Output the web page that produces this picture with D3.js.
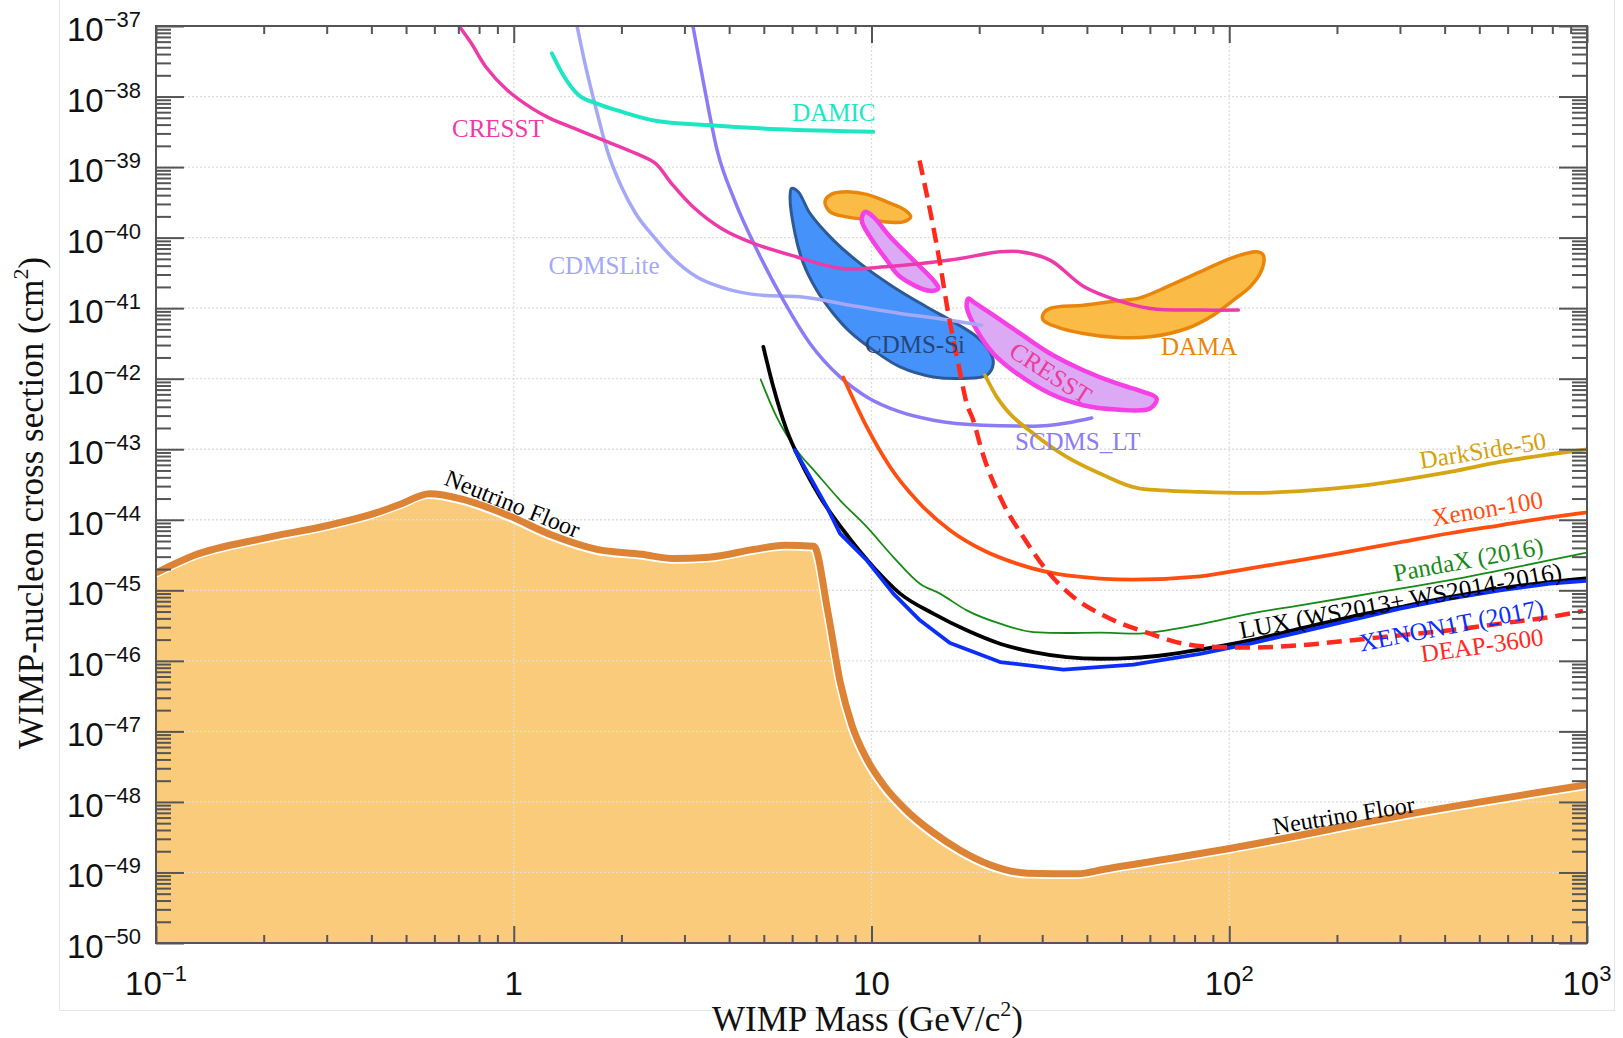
<!DOCTYPE html>
<html><head><meta charset="utf-8">
<script src="https://cdn.jsdelivr.net/npm/d3@7"></script>
<style>html,body{margin:0;padding:0;background:#fff;} svg{display:block;}</style>
</head><body>
<svg id="chart" width="1623" height="1038"></svg>
<script>
// ---------- axis / tick data ----------
const massDomain = [0.1, 1000];
const sigmaDomain = [1e-37, 1e-50];
const massMajor = [0.1, 1, 10, 100, 1000];
const xTickLabels = [["10","−1"],["1",""],["10",""],["10","2"],["10","3"]];
const sigmaExponents = d3.range(-37, -51, -1);
const yTickLabels = sigmaExponents.map(e => ["10", "−" + (-e)]);

// ---------- series ([mass GeV, sigma cm^2]) ----------
const neutrinoFloor = [[0.1,1.76e-45],[0.128,3.13e-45],[0.198,5.41e-45],[0.304,8.36e-45],[0.406,1.22e-44],
  [0.482,1.66e-44],[0.582,2.34e-44],[0.721,1.95e-44],[0.962,1.16e-44],[1.282,6.03e-45],[1.71,3.80e-45],
  [2.28,3.24e-45],[2.79,2.82e-45],[3.516,2.95e-45],[4.69,3.80e-45],[5.73,4.37e-45],[6.90,4.21e-45],
  [7.556,4.88e-46],[8.19,4.80e-47],[8.82,1.22e-47],[9.65,4.28e-48],[10.84,1.71e-48],[12.45,7.83e-49],
  [14.74,3.82e-49],[17.74,2.05e-49],[21.33,1.30e-49],[27.29,9.77e-50],[37.73,9.59e-50],[44.7,1.11e-49],
  [99.5,2.17e-49],[341,7.16e-49],[1000,1.75e-48]];

const cresstLimit = [[0.703,1e-37],[0.761,5.69e-38],[0.835,2.65e-38],[0.958,1.24e-38],[1.125,6.79e-39],
  [1.263,4.90e-39],[1.518,3.35e-39],[1.823,2.29e-39],[2.193,1.56e-39],[2.489,1.13e-39],[2.759,5.87e-40],
  [3.168,2.74e-40],[3.806,1.35e-40],[4.682,8.28e-41],[6.166,5.35e-41],[8.22,3.66e-41],[10.96,3.85e-41],
  [16.57,4.80e-41],[22.87,6.30e-41],[26.0,6.31e-41],[31.55,4.80e-41],[39.08,2.05e-41],[48.46,1.30e-41],
  [60.03,9.91e-42],[82.79,9.38e-42],[106.0,9.38e-42]];

const damicLimit = [[1.278,4.10e-38],[1.384,1.91e-38],[1.518,1.05e-38],[1.702,8.02e-39],[2.0,6.10e-39],
  [2.489,4.54e-39],[3.471,3.94e-39],[5.50,3.43e-39],[10.11,3.17e-39]];

const cdmsliteLimit = [[1.503,1e-37],[1.589,2.65e-38],[1.702,6.44e-39],[1.824,1.74e-39],[2.0,5.26e-40],
  [2.192,2.20e-40],[2.46,1.03e-40],[2.759,5.35e-41],[3.241,2.78e-41],[3.895,1.91e-41],[4.90,1.53e-41],
  [6.31,1.45e-41],[8.71,1.10e-41],[12.02,8.41e-42],[16.57,6.76e-42],[20.32,5.74e-42]];

const scdmsLimit = [[3.168,1e-37],[3.394,1.54e-38],[3.702,1.74e-39],[4.14,3.40e-40],[4.786,6.65e-41],
  [5.668,1.30e-41],[6.73,3.16e-42],[8.166,1.06e-42],[9.70,5.51e-43],[12.02,3.38e-43],[14.89,2.58e-43],
  [20.53,2.19e-43],[28.34,2.12e-43],[35.13,2.36e-43],[41.27,2.78e-43]];

const cdmsSiRegion = [[5.98,4.99e-40],[5.92,3.79e-40],[6.11,1.15e-40],[6.45,4.31e-41],[7.03,1.80e-41],
  [7.82,8.41e-42],[8.71,4.61e-42],[10.12,2.54e-42],[12.02,1.47e-42],[14.89,1.06e-42],[18.06,1.01e-42],
  [20.99,1.12e-42],[21.9,1.64e-42],[21.44,2.40e-42],[19.69,3.92e-42],[16.93,6.40e-42],[14.27,1.04e-41],
  [11.51,2.00e-41],[9.29,4.31e-41],[7.82,9.23e-41],[6.73,2.20e-40],[6.24,4.47e-40]];

const damaRegionLow = [[7.41,3.22e-40],[7.74,4.14e-40],[8.53,4.47e-40],[9.70,4.10e-40],[11.03,3.22e-40],
  [12.41,2.45e-40],[12.87,1.97e-40],[12.27,1.67e-40],[11.03,1.67e-40],[9.70,1.81e-40],[8.53,1.97e-40],[7.66,2.32e-40]];

const damaRegionHigh = [[30.1,7.96e-42],[31.55,9.91e-42],[39.08,1.10e-41],[48.46,1.26e-41],[56.3,1.40e-41],
  [66.88,2.00e-41],[82.84,3.27e-41],[102.7,5.24e-41],[119.3,6.30e-41],[124.5,5.65e-41],[123.2,3.46e-41],
  [114.3,2.00e-41],[102.7,1.30e-41],[90.2,7.96e-42],[76.05,5.15e-42],[60.03,3.92e-42],[48.46,3.84e-42],
  [39.08,4.38e-42],[32.94,5.43e-42],[30.22,6.76e-42]];

const cresstRegionLow = [[9.59,2.32e-40],[10.12,1.97e-40],[11.27,1.03e-40],[13.09,4.80e-41],[14.89,2.49e-41],
  [15.37,1.91e-41],[14.57,1.76e-41],[12.02,2.78e-41],[11.03,4.80e-41],[9.90,1.03e-40],[9.39,1.77e-40]];

const cresstRegionHigh = [[18.65,1.37e-41],[18.46,1.04e-41],[19.69,4.88e-42],[21.9,2.28e-42],[25.47,1.19e-42],
  [31.55,6.17e-43],[39.08,4.21e-43],[48.46,3.66e-43],[60.03,3.78e-43],[62.68,5.24e-43],[57.5,6.50e-43],
  [48.46,8.55e-43],[39.08,1.32e-42],[31.55,2.28e-42],[26.01,4.38e-42],[21.9,7.96e-42],[19.26,1.23e-41]];

const deapLimit = [[13.62,1.24e-39],[14.57,2.45e-40],[15.54,4.31e-41],[16.39,8.41e-42],[17.48,1.64e-42],
  [18.46,4.45e-43],[19.25,2.58e-43],[20.32,9.68e-44],[23.35,1.70e-44],[26.57,5.70e-45],[30.88,1.92e-45],
  [36.66,8.04e-46],[45.44,4.18e-46],[60.03,2.43e-46],[74.4,1.75e-46],[92.2,1.57e-46],[114.3,1.54e-46],
  [157.7,1.66e-46],[217.5,1.95e-46],[300.1,2.30e-46],[414.1,2.71e-46],[571.3,3.37e-46],[788.2,4.18e-46],[974.5,5.08e-46]];

const darksideLimit = [[20.76,1.12e-42],[22.39,5.52e-43],[23.88,3.57e-43],[28.34,1.67e-43],[35.13,7.78e-44],
  [43.52,4.52e-44],[56.3,2.77e-44],[82.84,2.48e-44],[114.3,2.40e-44],[157.7,2.54e-44],[217.5,2.92e-44],
  [300.1,3.63e-44],[414.1,4.76e-44],[571.3,6.61e-44],[788.2,8.49e-44],[1000,1.0e-43]];

const xenon100Limit = [[8.34,1.04e-42],[9.70,2.07e-43],[11.27,5.61e-44],[13.38,1.89e-44],[16.57,7.10e-45],
  [20.53,3.69e-45],[25.47,2.39e-45],[35.13,1.63e-45],[53.94,1.42e-45],[82.84,1.58e-45],[114.3,2.05e-45],
  [157.7,2.67e-45],[217.5,3.57e-45],[300.1,4.80e-45],[414.1,6.44e-45],[571.3,8.36e-45],[788.2,1.08e-44],[987.2,1.26e-44]];

const pandaxLimit = [[4.90,9.75e-43],[5.43,2.87e-43],[6.18,9.68e-44],[7.03,4.52e-44],[8.17,1.89e-44],
  [9.70,7.91e-45],[11.51,2.96e-45],[13.66,1.24e-45],[15.54,8.97e-46],[18.46,5.20e-46],[22.87,3.37e-46],
  [28.34,2.56e-46],[35.13,2.48e-46],[43.52,2.51e-46],[53.94,2.43e-46],[66.88,2.71e-46],[82.84,3.30e-46],
  [114.3,4.68e-46],[157.7,6.12e-46],[217.5,8.04e-46],[300.1,1.06e-45],[414.1,1.39e-45],[571.3,1.92e-45],
  [788.2,2.67e-45],[993.6,3.40e-45]];

const luxLimit = [[4.985,2.82e-42],[5.315,7.66e-43],[5.794,1.86e-43],[6.31,6.98e-44],[7.18,2.10e-44],
  [8.34,7.10e-45],[10.12,2.14e-45],[12.02,8.97e-46],[14.89,4.67e-46],[18.46,2.71e-46],[22.87,1.75e-46],
  [28.34,1.33e-46],[35.13,1.13e-46],[43.52,1.07e-46],[53.94,1.10e-46],[66.88,1.22e-46],[82.84,1.44e-46],
  [114.3,1.95e-46],[157.7,2.86e-46],[217.5,4.18e-46],[300.1,5.79e-46],[414.1,8.04e-46],[571.3,1.06e-45],
  [788.2,1.31e-45],[993.6,1.48e-45]];

const xenon1tLimit = [[6.11,9.68e-44],[6.73,4.05e-44],[7.50,1.52e-44],[8.17,6.37e-45],[9.70,2.67e-45],
  [11.51,8.97e-46],[13.66,3.75e-46],[16.57,1.79e-46],[22.87,9.62e-47],[34.38,7.50e-47],[53.94,8.83e-47],
  [82.84,1.26e-46],[114.3,1.75e-46],[157.7,2.56e-46],[217.5,3.75e-46],[300.1,5.50e-46],[414.1,7.62e-46],
  [571.3,1.00e-45],[788.2,1.24e-45],[993.6,1.36e-45]];

// ---------- labels ----------
const curveLabels = [
  {text:"CRESST", at:[0.672,2.67e-39], rot:0, color:"#ee3aa8", anchor:"start"},
  {text:"DAMIC", at:[6.0,4.49e-39], rot:0, color:"#1de6c2", anchor:"start"},
  {text:"CDMSLite", at:[1.25,3.03e-41], rot:0, color:"#a5a8f7", anchor:"start"},
  {text:"CDMS-Si", at:[9.59,2.30e-42], rot:0, color:"#26467a", anchor:"start"},
  {text:"SCDMS_LT", at:[25.18,9.68e-44], rot:0, color:"#8b7bf7", anchor:"start"},
  {text:"DAMA", at:[64.43,2.15e-42], rot:0, color:"#e8860c", anchor:"start"},
  {text:"CRESST", at:[30.74,9.53e-43], rot:33, color:"#ee3a9c", anchor:"middle"},
  {text:"DarkSide-50", at:[343.6,5.28e-44], rot:-9, color:"#d4a10c", anchor:"start"},
  {text:"Xenon-100", at:[371.2,8.09e-45], rot:-9.5, color:"#ff4e0f", anchor:"start"},
  {text:"PandaX (2016)", at:[290.6,1.32e-45], rot:-10.5, color:"#168a16", anchor:"start"},
  {text:"LUX (WS2013+ WS2014-2016)", at:[107.8,2.05e-46], rot:-10.5, color:"#000000", anchor:"start"},
  {text:"XENON1T (2017)", at:[233.4,1.36e-46], rot:-11, color:"#0b2ff7", anchor:"start"},
  {text:"DEAP-3600", at:[345.8,9.53e-47], rot:-8, color:"#ff2a1e", anchor:"start"},
  {text:"Neutrino Floor", at:[0.634,3.19e-44], rot:22, color:"#000000", anchor:"start", size:24},
  {text:"Neutrino Floor", at:[133.4,3.46e-49], rot:-9, color:"#000000", anchor:"start", size:24}
];

// ---------- layout ----------
const M = {left:156, right:1587, top:26, bottom:943};
const svg = d3.select("#chart");
const x = d3.scaleLog().domain(massDomain).range([M.left, M.right]);
const y = d3.scaleLog().domain(sigmaDomain).range([M.top, M.bottom]);
const SERIF = "'Liberation Serif','Times New Roman',serif";
const SANS = "'Liberation Sans',Arial,Helvetica,sans-serif";

svg.append("rect").attr("width",1623).attr("height",1038).attr("fill","#fff");
svg.append("rect").attr("x",59.5).attr("y",-5).attr("width",1555).attr("height",1015.5)
  .attr("fill","none").attr("stroke","#e6e6e6").attr("stroke-width",1);

svg.append("defs").append("clipPath").attr("id","plotclip").append("rect")
  .attr("x",M.left).attr("y",M.top).attr("width",M.right-M.left).attr("height",M.bottom-M.top);

const plot = svg.append("g").attr("clip-path","url(#plotclip)");

// neutrino floor fill
const floorCurve = d3.curveMonotoneX;
const floorArea = d3.area().x(d=>x(d[0])).y0(M.bottom).y1(d=>y(d[1])).curve(floorCurve);
plot.append("path").datum(neutrinoFloor).attr("d",floorArea).attr("fill","#fbcb7c");

// grid
const gridG = plot.append("g").attr("stroke","#dedede").attr("stroke-width",1.3).attr("stroke-dasharray","2,2");
sigmaExponents.slice(1,-1).forEach(e=>{
  gridG.append("line").attr("x1",M.left).attr("x2",M.right).attr("y1",y(Math.pow(10,e))).attr("y2",y(Math.pow(10,e)));
});
massMajor.slice(1,-1).forEach(m=>{
  gridG.append("line").attr("y1",M.top).attr("y2",M.bottom).attr("x1",x(m)).attr("x2",x(m));
});

// floor line
const floorLine = d3.line().x(d=>x(d[0])).y(d=>y(d[1])).curve(floorCurve);
plot.append("path").datum(neutrinoFloor).attr("d",floorLine).attr("fill","none")
  .attr("stroke","#fff").attr("stroke-width",7).attr("transform","translate(-1.2,1.8)");
plot.append("path").datum(neutrinoFloor).attr("d",floorLine).attr("fill","none")
  .attr("stroke","#dc8335").attr("stroke-width",7).attr("stroke-linejoin","round");

// regions
const closed = d3.line().x(d=>x(d[0])).y(d=>y(d[1])).curve(d3.curveCatmullRomClosed.alpha(0.5));
const regions = [
  {data:cdmsSiRegion, fill:"#4592fb", stroke:"#2d5a96", w:3},
  {data:damaRegionLow, fill:"#fbbb47", stroke:"#e8860c", w:3.5},
  {data:cresstRegionLow, fill:"#dcaaf5", stroke:"#f540e6", w:4.5},
  {data:damaRegionHigh, fill:"#fbbb47", stroke:"#e8860c", w:3.5},
  {data:cresstRegionHigh, fill:"#dcaaf5", stroke:"#f540e6", w:4.5}
];
regions.forEach(r=>{
  plot.append("path").datum(r.data).attr("d",closed).attr("fill",r.fill)
    .attr("stroke",r.stroke).attr("stroke-width",r.w).attr("stroke-linejoin","round");
});

// limit curves
const smooth = d3.line().x(d=>x(d[0])).y(d=>y(d[1])).curve(d3.curveMonotoneX);
const rom = d3.line().x(d=>x(d[0])).y(d=>y(d[1])).curve(d3.curveCatmullRom.alpha(0.5));
const straight = d3.line().x(d=>x(d[0])).y(d=>y(d[1])).curve(d3.curveLinear);
const limits = [
  {data:cdmsliteLimit, color:"#a5a8f7", w:3.5, gen:smooth},
  {data:scdmsLimit, color:"#8b7bf7", w:3.5, gen:smooth},
  {data:damicLimit, color:"#1de6c2", w:4, gen:smooth},
  {data:cresstLimit, color:"#ee3aa8", w:3.5, gen:rom},
  {data:darksideLimit, color:"#d6a512", w:3.8, gen:smooth},
  {data:xenon100Limit, color:"#ff4f10", w:3.8, gen:smooth},
  {data:pandaxLimit, color:"#168a16", w:1.8, gen:smooth},
  {data:luxLimit, color:"#000000", w:3.8, gen:smooth},
  {data:xenon1tLimit, color:"#0b2ff7", w:3.8, gen:straight},
  {data:deapLimit, color:"#ff2a1e", w:4.5, gen:smooth, dash:"15,8"}
];
limits.forEach(l=>{
  const p = plot.append("path").datum(l.data).attr("d", l.gen)
    .attr("fill","none").attr("stroke",l.color).attr("stroke-width",l.w)
    .attr("stroke-linejoin","round").attr("stroke-linecap", l.dash ? "butt" : "round");
  if (l.dash) p.attr("stroke-dasharray", l.dash);
});

// ---------- axes ----------
const yMinor = [];
for (let e=-50; e<-37; e++) for (let k=2; k<=9; k++) yMinor.push(k*Math.pow(10,e));
const yMajor = sigmaExponents.map(e=>Math.pow(10,e));
const xMinor = [];
for (let e=-1; e<3; e++) for (let k=2; k<=9; k++) xMinor.push(k*Math.pow(10,e));

function styleAxis(g){
  g.select(".domain").remove();
  g.selectAll(".tick line").attr("stroke","#555").attr("stroke-width",2);
  g.selectAll(".tick text").remove();
}
[[d3.axisLeft, M.left],[d3.axisRight, M.right]].forEach(([fn,pos])=>{
  svg.append("g").attr("transform",`translate(${pos},0)`)
    .call(fn(y).tickValues(yMajor).tickSizeInner(-28).tickSizeOuter(0)).call(styleAxis);
  svg.append("g").attr("transform",`translate(${pos},0)`)
    .call(fn(y).tickValues(yMinor).tickSizeInner(-15).tickSizeOuter(0)).call(styleAxis);
});
[[d3.axisTop, M.top],[d3.axisBottom, M.bottom]].forEach(([fn,pos])=>{
  svg.append("g").attr("transform",`translate(0,${pos})`)
    .call(fn(x).tickValues(massMajor).tickSizeInner(-17).tickSizeOuter(0)).call(styleAxis);
  svg.append("g").attr("transform",`translate(0,${pos})`)
    .call(fn(x).tickValues(xMinor).tickSizeInner(-8).tickSizeOuter(0)).call(styleAxis);
});
svg.append("rect").attr("x",M.left).attr("y",M.top).attr("width",M.right-M.left).attr("height",M.bottom-M.top)
  .attr("fill","none").attr("stroke","#555").attr("stroke-width",2);

// tick labels
function powLabel(sel, parts){
  sel.append("tspan").attr("font-size",33).text(parts[0]);
  if (parts[1]) sel.append("tspan").attr("font-size",22).attr("dy",-14).text(parts[1]);
}
sigmaExponents.forEach((e,i)=>{
  const t = svg.append("text").attr("x",M.left-15).attr("y",y(Math.pow(10,e))+15)
    .attr("text-anchor","end").attr("font-family",SANS).attr("fill","#111");
  powLabel(t, yTickLabels[i]);
});
massMajor.forEach((m,i)=>{
  const t = svg.append("text").attr("x",x(m)).attr("y",995)
    .attr("text-anchor","middle").attr("font-family",SANS).attr("fill","#111");
  powLabel(t, xTickLabels[i]);
});

// axis titles
const xt = svg.append("text").attr("x",(M.left+M.right)/2 - 4).attr("y",1031).attr("text-anchor","middle")
  .attr("font-family",SERIF).attr("font-size",35).attr("fill","#111");
xt.append("tspan").text("WIMP Mass (GeV/c");
xt.append("tspan").attr("font-size",22).attr("dy",-15).text("2");
xt.append("tspan").attr("dy",15).text(")");

const yt = svg.append("text").attr("transform","translate(43,503) rotate(-90)").attr("text-anchor","middle")
  .attr("font-family",SERIF).attr("font-size",35).attr("fill","#111");
yt.append("tspan").text("WIMP-nucleon cross section (cm");
yt.append("tspan").attr("font-size",22).attr("dy",-15).text("2");
yt.append("tspan").attr("dy",15).text(")");

// curve labels
curveLabels.forEach(l=>{
  const px = x(l.at[0]), py = y(l.at[1]);
  svg.append("text").attr("transform",`translate(${px},${py}) rotate(${l.rot})`)
    .attr("text-anchor",l.anchor).attr("font-family",SERIF).attr("font-size",l.size||25)
    .attr("fill",l.color).text(l.text);
});
</script>
</body></html>
